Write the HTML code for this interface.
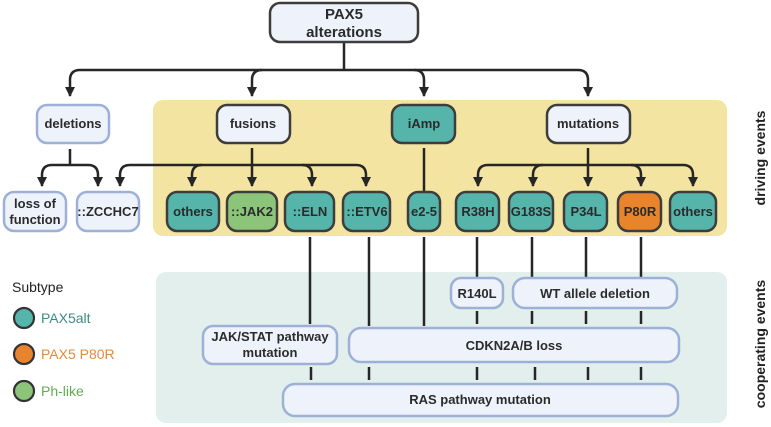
<!DOCTYPE html>
<html><head><meta charset="utf-8"><style>
html,body{margin:0;padding:0;background:#fff;}
svg{display:block;}
text{font-family:"Liberation Sans",sans-serif;font-weight:bold;font-size:13px;fill:#2b2b2b;text-anchor:middle;}
.lt{fill:#eef3fb;stroke:#9db0d6;stroke-width:2.5;}
.dk{fill:#eef3fb;stroke:#3d3d3d;stroke-width:2.5;}
.tl{fill:#56b5aa;stroke:#3d3d3d;stroke-width:2.5;}
.ln{stroke:#262626;stroke-width:2.5;fill:none;}
</style></head><body>
<svg width="771" height="427" viewBox="0 0 771 427" xmlns="http://www.w3.org/2000/svg">
<defs>
<marker id="b" viewBox="0 0 10 10" refX="9" refY="5" markerWidth="10" markerHeight="11" markerUnits="userSpaceOnUse" orient="auto"><path d="M0,0 L10,5 L0,10 z" fill="#262626"/></marker></defs>
<rect x="153" y="100" width="574" height="136" rx="10" fill="#f4e4a2"/>
<rect x="156" y="272" width="571" height="151" rx="10" fill="#e2efed"/>
<!-- top tree -->
<path class="ln" d="M344,42 V70"/>
<path class="ln" d="M80,70 H578"/>
<path class="ln" d="M80,70 Q70,70 70,80 V96" marker-end="url(#b)"/>
<path class="ln" d="M262,70 Q252,70 252,80 V96" marker-end="url(#b)"/>
<path class="ln" d="M414,70 Q424,70 424,80 V96" marker-end="url(#b)"/>
<path class="ln" d="M578,70 Q588,70 588,80 V96" marker-end="url(#b)"/>
<rect class="dk" x="270" y="3" width="148" height="39" rx="10"/>
<text x="344" y="19" style="font-size:15px">PAX5</text><text x="344" y="37" style="font-size:15px">alterations</text>
<!-- second row -->
<rect class="lt" x="37" y="105" width="72" height="38" rx="10"/><text x="73" y="128">deletions</text>
<rect class="dk" x="217" y="105" width="73" height="38" rx="10"/><text x="253" y="128">fusions</text>
<rect class="tl" x="392" y="105" width="63" height="38" rx="10"/><text x="424" y="128">iAmp</text>
<rect class="dk" x="547" y="105" width="83" height="38" rx="10"/><text x="588" y="128">mutations</text>
<!-- deletions branch -->
<path class="ln" d="M70,149 V165 M52,165 H88"/>
<path class="ln" d="M52,165 Q42,165 42,175 V186" marker-end="url(#b)"/>
<path class="ln" d="M88,165 Q98,165 98,175 V186" marker-end="url(#b)"/>
<!-- fusions branch -->
<path class="ln" d="M252,148 V186" marker-end="url(#b)"/>
<path class="ln" d="M130,165 H356"/>
<path class="ln" d="M130,165 Q120,165 120,175 V186" marker-end="url(#b)"/>
<path class="ln" d="M202,165 Q192,165 192,175 V186" marker-end="url(#b)"/>
<path class="ln" d="M302,165 Q312,165 312,175 V186" marker-end="url(#b)"/>
<path class="ln" d="M356,165 Q366,165 366,175 V186" marker-end="url(#b)"/>
<!-- iAmp -->
<path class="ln" d="M424,148 V192"/>
<!-- mutations branch -->
<path class="ln" d="M588,148 V186" marker-end="url(#b)"/>
<path class="ln" d="M488,165 H683"/>
<path class="ln" d="M488,165 Q478,165 478,175 V186" marker-end="url(#b)"/>
<path class="ln" d="M543,165 Q533,165 533,175 V186" marker-end="url(#b)"/>
<path class="ln" d="M631,165 Q641,165 641,175 V186" marker-end="url(#b)"/>
<path class="ln" d="M683,165 Q693,165 693,175 V186" marker-end="url(#b)"/>
<!-- bottom row of driving -->
<rect class="lt" x="4" y="192" width="62" height="39" rx="10"/><text x="35" y="208">loss of</text><text x="35" y="224">function</text>
<rect class="lt" x="77" y="192" width="62" height="39" rx="10"/><text x="108" y="216">::ZCCHC7</text>
<rect class="tl" x="167" y="192" width="52" height="39" rx="10"/><text x="193" y="216">others</text>
<rect x="227" y="192" width="50" height="39" rx="10" fill="#8cc47a" stroke="#3d3d3d" stroke-width="2.5"/><text x="252" y="216">::JAK2</text>
<rect class="tl" x="285" y="192" width="49" height="39" rx="10"/><text x="310" y="216">::ELN</text>
<rect class="tl" x="343" y="192" width="47" height="39" rx="10"/><text x="367" y="216">::ETV6</text>
<rect class="tl" x="408" y="192" width="32" height="39" rx="10"/><text x="424" y="216">e2-5</text>
<rect class="tl" x="456" y="192" width="43" height="39" rx="10"/><text x="478" y="216">R38H</text>
<rect class="tl" x="509" y="192" width="44" height="39" rx="10"/><text x="531" y="216">G183S</text>
<rect class="tl" x="564" y="192" width="43" height="39" rx="10"/><text x="586" y="216">P34L</text>
<rect x="618" y="192" width="43" height="39" rx="10" fill="#e8852c" stroke="#3d3d3d" stroke-width="2.5"/><text x="640" y="216">P80R</text>
<rect class="tl" x="670" y="192" width="46" height="39" rx="10"/><text x="693" y="216">others</text>
<!-- cooperating lines -->
<path class="ln" d="M310,237 V324 M369,237 V326 M424,237 V326 M477,237 V277 M532,237 V277 M586,237 V277 M641,237 V277"/>
<path class="ln" d="M477,311 V324 M532,311 V324 M586,311 V324 M641,311 V324"/>
<path class="ln" d="M311,367 V380 M369,367 V380 M477,367 V380 M535,367 V380 M588,367 V380 M641,367 V380"/>
<rect class="lt" x="451" y="278" width="52" height="30" rx="10"/><text x="477" y="298">R140L</text>
<rect class="lt" x="513" y="278" width="164" height="30" rx="12"/><text x="595" y="298">WT allele deletion</text>
<rect class="lt" x="203" y="326" width="134" height="38" rx="10"/><text x="270" y="341">JAK/STAT pathway</text><text x="270" y="357">mutation</text>
<rect class="lt" x="349" y="328" width="330" height="34" rx="12"/><text x="514" y="350">CDKN2A/B loss</text>
<rect class="lt" x="283" y="384" width="395" height="32" rx="12"/><text x="480" y="404">RAS pathway mutation</text>
<!-- legend -->
<text x="12" y="292" style="font-weight:normal;font-size:14px;text-anchor:start;fill:#222">Subtype</text>
<circle cx="24" cy="318" r="10" fill="#56b5aa" stroke="#333" stroke-width="2.2"/>
<text x="41" y="323" style="font-weight:normal;font-size:14px;text-anchor:start;fill:#3e8b84">PAX5alt</text>
<circle cx="24" cy="354" r="10" fill="#e8852c" stroke="#333" stroke-width="2.2"/>
<text x="41" y="359" style="font-weight:normal;font-size:14px;text-anchor:start;fill:#e28a3c">PAX5 P80R</text>
<circle cx="24" cy="391" r="10" fill="#8cc47a" stroke="#333" stroke-width="2.2"/>
<text x="41" y="396" style="font-weight:normal;font-size:14px;text-anchor:start;fill:#5fae4e">Ph-like</text>
<!-- side labels -->
<text transform="translate(765,158) rotate(-90)" style="font-size:14px;fill:#222">driving events</text>
<text transform="translate(765,344) rotate(-90)" style="font-size:14px;fill:#222">cooperating events</text>
</svg>
</body></html>
